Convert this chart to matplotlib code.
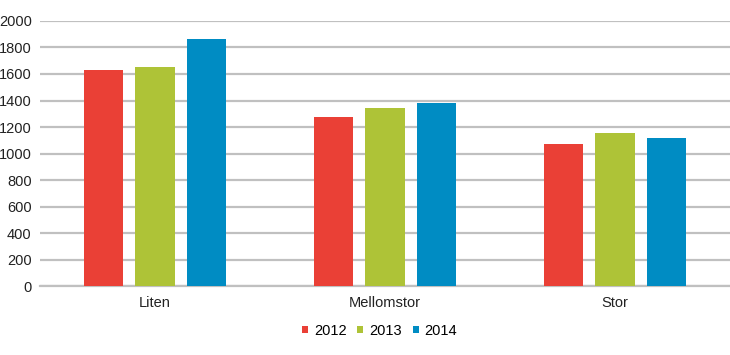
import numpy as np
import matplotlib
matplotlib.use('Agg')
import matplotlib.pyplot as plt

plt.rcParams['font.family'] = ['Liberation Sans', 'DejaVu Sans']

categories = ["Liten", "Mellomstor", "Stor"]
years = ["2012", "2013", "2014"]
values_2012 = [1630, 1275, 1072]
values_2013 = [1655, 1343, 1155]
values_2014 = [1862, 1381, 1117]
colors = ["#EA4036", "#AEC337", "#008CC3"]

fig = plt.figure(figsize=(7.3, 3.55), dpi=100)
ax = fig.add_axes([0.0548, 0.194, 0.9452, 0.747])

x = np.arange(len(categories))
w = 0.17
step = 0.222
series = [values_2012, values_2013, values_2014]
for i, (vals, yr, c) in enumerate(zip(series, years, colors)):
    ax.bar(x + (i - 1) * step, vals, width=w, color=c, label=yr, zorder=3)

ax.set_xlim(-0.5, 2.5)
ax.set_ylim(0, 2000)
ax.set_yticks(range(0, 2001, 200))
ax.yaxis.grid(True, color="#c0c0c0", linewidth=1.6, zorder=0)
ax.set_axisbelow(True)
for s in ["left", "right", "top"]:
    ax.spines[s].set_visible(False)
ax.spines["bottom"].set_color("#c0c0c0")
ax.spines["bottom"].set_linewidth(1.6)
ax.tick_params(axis="both", length=0, labelsize=10.5, colors="#222222")
ax.tick_params(axis="y", pad=6)
ax.tick_params(axis="x", pad=7)
ax.set_xticks(x)
ax.set_xticklabels(categories)

# compact legend under the axis
fig.legend(loc="center", bbox_to_anchor=(0.52, 0.068), ncol=3, frameon=False,
           fontsize=10.5, handlelength=0.4, handleheight=0.4, handletextpad=0.4,
           columnspacing=0.75)

fig.savefig("out.png", dpi=100)
